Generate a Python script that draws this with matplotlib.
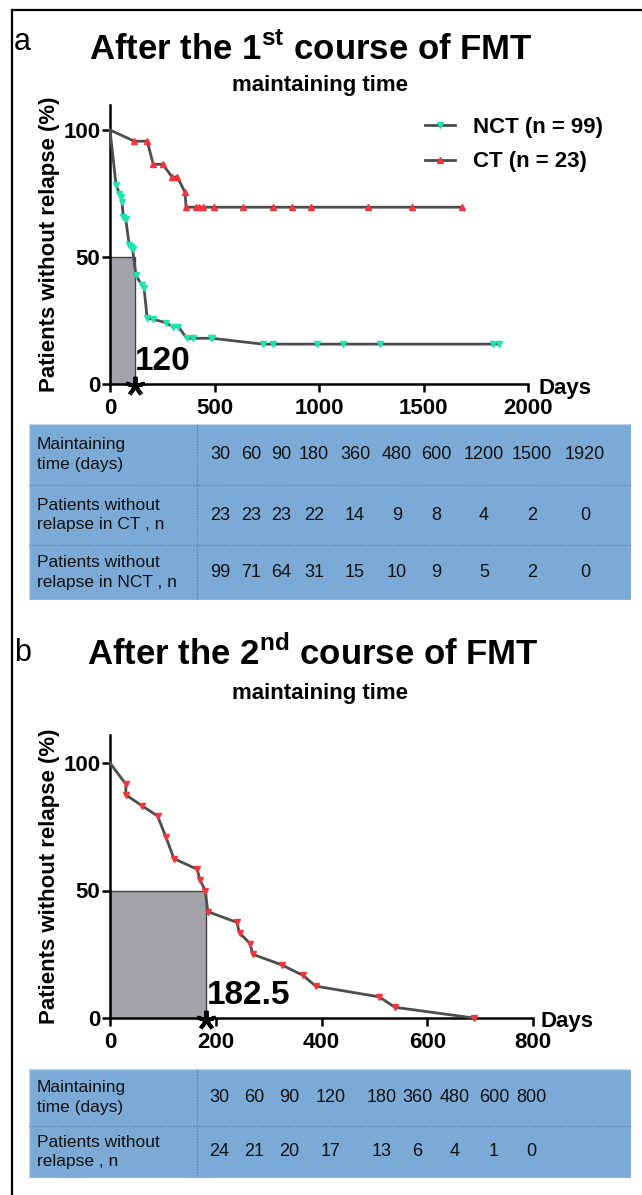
import matplotlib
matplotlib.use("Agg")
import matplotlib.pyplot as plt
from matplotlib.patches import Rectangle
from matplotlib.lines import Line2D

plt.rcParams["font.family"] = ["Liberation Sans", "DejaVu Sans"]
plt.rcParams["mathtext.fontset"] = "custom"
plt.rcParams["mathtext.bf"] = "Liberation Sans:bold"
plt.rcParams["mathtext.rm"] = "Liberation Sans"

# ---- data ----
NCT1_DAYS = [0, 29, 45, 53, 57, 64, 75, 92, 102, 108, 124, 151, 163, 178, 207, 268, 300, 327,
             367, 399, 482, 488, 730, 781, 992, 1113, 1292, 1834, 1863]
NCT1_SURV = [100, 78.3, 75.0, 73.5, 71.8, 65.9, 65.0, 54.7, 54.0, 53.0, 42.9, 39.0, 37.7, 25.8,
             25.5, 24.1, 22.6, 22.6, 18.0, 18.0, 18.0, 18.0, 15.7, 15.7, 15.7, 15.7, 15.7, 15.7, 15.7]
CT1_DAYS = [0, 116, 178, 207, 252, 297, 322, 359, 364, 411, 427, 446, 498, 635, 781, 871, 962,
            1233, 1443, 1686]
CT1_SURV = [100, 95.6, 95.6, 86.5, 86.5, 81.5, 81.5, 75.5, 69.6, 69.6, 69.6, 69.6, 69.6, 69.6,
            69.6, 69.6, 69.6, 69.6, 69.6, 69.6]
MEDIAN_1 = 120

B_DAYS = [0, 30, 30, 60, 90, 106, 121, 165, 170, 180, 185, 240, 245, 265, 270, 325, 365, 389,
          509, 539, 688]
B_SURV = [100, 91.7, 87.5, 83.3, 79.2, 70.8, 62.5, 58.3, 54.2, 50.0, 41.7, 37.5, 33.3, 29.2,
          25.0, 20.8, 16.7, 12.5, 8.3, 4.2, 0]
MEDIAN_2 = 182.5

A_TIMES = ["30", "60", "90", "180", "360", "480", "600", "1200", "1500", "1920"]
A_CT = [23, 23, 23, 22, 14, 9, 8, 4, 2, 0]
A_NCT = [99, 71, 64, 31, 15, 10, 9, 5, 2, 0]
B_TIMES = ["30", "60", "90", "120", "180", "360", "480", "600", "800"]
B_N = [24, 21, 20, 17, 13, 6, 4, 1, 0]

# ---- layout / style ----
W, H = 642, 1195
LINE = "#4d4d4d"
GREEN = "#1de5b0"
RED = "#f5333b"
GRAY = "#a3a3a9"
BLUE = "#7caad7"
A_COLS = [220, 251, 281, 314, 355, 397, 436, 484, 532, 585]
B_COLS = [219, 254, 289, 331, 382, 417, 455, 494, 531]


def fx(px):
    return px / W


def fy(py):
    return 1 - py / H


def rect(l, t, r, b):
    return [fx(l), fy(b), (r - l) / W, (b - t) / H]


fig = plt.figure(figsize=(W / 100, H / 100), dpi=100)

# outer frame (top and left only)
fig.add_artist(Line2D([fx(12), 1], [fy(10), fy(10)], color="black", lw=1.6, transform=fig.transFigure))
fig.add_artist(Line2D([fx(12), fx(12)], [fy(10), 0], color="black", lw=1.6, transform=fig.transFigure))


def style_axes(ax, xticks, xmax, ymax):
    for s in ("top", "right"):
        ax.spines[s].set_visible(False)
    for s in ("left", "bottom"):
        ax.spines[s].set_linewidth(1.8)
    ax.set_xlim(0, xmax)
    ax.set_ylim(0, ymax)
    ax.set_xticks(xticks)
    ax.set_yticks([0, 50, 100])
    ax.tick_params(direction="out", length=6, width=1.8, labelsize=16, pad=4)
    ax.tick_params(axis="y", pad=1)
    for lab in ax.get_xticklabels() + ax.get_yticklabels():
        lab.set_fontweight("bold")
    ax.set_ylabel("Patients without relapse (%)", fontsize=16, fontweight="bold", labelpad=2)


def median_marks(ax, med, label):
    ax.add_patch(Rectangle((0, 0), med, 50, facecolor=GRAY, edgecolor="#444444", lw=1, zorder=1))
    ax.text(med, 5.5, label, fontsize=24, fontweight="bold", ha="left", va="baseline", zorder=5)
    ax.plot([med], [-0.8], marker=(5, 2, 0), ms=14, mew=2.8, color="black", clip_on=False, zorder=6)


def table(rows, cols, top, bottom, dividers):
    tx = fig.add_axes(rect(29, top, 631, bottom))
    tx.set_xlim(29, 631)
    tx.set_ylim(bottom, top)
    tx.axis("off")
    tx.add_patch(Rectangle((29, top), 602, bottom - top, facecolor=BLUE, edgecolor="#bcd3ec", lw=1))
    tx.plot([197, 197], [top, bottom], color="#5f7390", lw=0.8, ls=(0, (1, 1.5)))
    for d in dividers:
        tx.plot([29, 631], [d, d], color="#5f7390", lw=0.8, ls=(0, (1, 1.5)))
    edges = [top] + dividers + [bottom]
    for i, (label, vals) in enumerate(rows):
        yc = (edges[i] + edges[i + 1]) / 2
        tx.text(37, yc, label, fontsize=12.5, ha="left", va="center", color="#111111", linespacing=1.4)
        for c, v in zip(cols, vals):
            tx.text(c, yc, str(v), fontsize=13, ha="center", va="center", color="#111111")


# ---------------- panel a ----------------
fig.text(fx(14), fy(42), "a", fontsize=22, ha="left", va="center")
fig.text(fx(311), fy(60), r"After the 1$^{\mathbf{st}}$ course of FMT", fontsize=25,
         fontweight="bold", ha="center", va="baseline")
fig.text(fx(320), fy(85), "maintaining time", fontsize=16, fontweight="bold", ha="center", va="center")

ax1 = fig.add_axes(rect(110, 384 - 110 * 2.54, 528, 384))
style_axes(ax1, [0, 500, 1000, 1500, 2000], 2000, 110)
median_marks(ax1, MEDIAN_1, "120")
ax1.plot(NCT1_DAYS, NCT1_SURV, color=LINE, lw=2, marker="v", ms=5, mfc=GREEN, mec=GREEN,
         markevery=list(range(1, len(NCT1_DAYS))), label="NCT (n = 99)", zorder=3, clip_on=False)
ax1.plot(CT1_DAYS, CT1_SURV, color=LINE, lw=2, marker="^", ms=5, mfc=RED, mec=RED,
         markevery=list(range(1, len(CT1_DAYS))), label="CT (n = 23)", zorder=3, clip_on=False)
ax1.legend(loc="upper left", bbox_to_anchor=(fx(425), fy(117)), bbox_transform=fig.transFigure,
           frameon=False, borderpad=0, borderaxespad=0, numpoints=1, handlelength=1.35,
           handletextpad=0.8, labelspacing=0.6, prop={"weight": "bold", "size": 16})
fig.text(fx(539), fy(388), "Days", fontsize=16, fontweight="bold", ha="left", va="center")

table([("Maintaining\ntime (days)", A_TIMES),
       ("Patients without\nrelapse in CT , n", A_CT),
       ("Patients without\nrelapse in NCT , n", A_NCT)],
      A_COLS, 424, 600, [485, 545])

# ---------------- panel b ----------------
fig.text(fx(14), fy(653), "b", fontsize=22, ha="left", va="center")
fig.text(fx(313), fy(665), r"After the 2$^{\mathbf{nd}}$ course of FMT", fontsize=25,
         fontweight="bold", ha="center", va="baseline")
fig.text(fx(320), fy(693), "maintaining time", fontsize=16, fontweight="bold", ha="center", va="center")

ax2 = fig.add_axes(rect(110, 1018 - 111 * 2.55, 533, 1018))
style_axes(ax2, [0, 200, 400, 600, 800], 800, 111)
median_marks(ax2, MEDIAN_2, "182.5")
ax2.plot(B_DAYS, B_SURV, color=LINE, lw=2, marker="v", ms=5, mfc=RED, mec=RED,
         markevery=list(range(1, len(B_DAYS))), zorder=3, clip_on=False)
fig.text(fx(541), fy(1022), "Days", fontsize=16, fontweight="bold", ha="left", va="center")

table([("Maintaining\ntime (days)", B_TIMES),
       ("Patients without\nrelapse , n", B_N)],
      B_COLS, 1069, 1178, [1126])

fig.savefig("out.png", dpi=100)
